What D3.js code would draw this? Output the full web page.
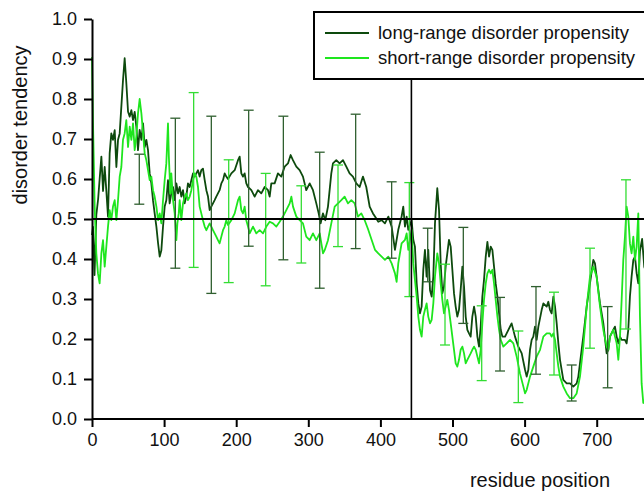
<!DOCTYPE html>
<html>
<head>
<meta charset="utf-8">
<script src="https://cdn.jsdelivr.net/npm/d3@7"></script>
<style>
  body { margin: 0; background: #fff; }
  svg { display: block; font-family: "Liberation Sans", Arial, sans-serif; }
  .axis path, .axis line { stroke: #000; stroke-width: 2; }
  .axis text { font-size: 18px; fill: #111; }
</style>
</head>
<body>
<div id="chart"></div>
<script>
// long-range disorder propensity [residue, tendency]
const longRange = [
  [0,0.46],[1.4,0.48],[3.5,0.36],[6,0.51],[8.5,0.55],[10.6,0.6],[13,0.656],[15.3,0.57],[17.6,0.63],[19.9,0.57],
  [22.2,0.506],[24.5,0.664],[26.8,0.714],[29.1,0.698],[31.5,0.722],[33.8,0.63],[36.1,0.698],[38.4,0.714],[40.7,0.781],[43,0.847],
  [45.3,0.902],[47.6,0.84],[50,0.768],[52.3,0.756],[54.6,0.772],[56.9,0.747],[59.2,0.768],[61.5,0.731],[63.8,0.672],[66.1,0.723],
  [68.5,0.698],[70.8,0.739],[73.1,0.68],[75.4,0.698],[77.7,0.672],[80,0.614],[82.3,0.589],[84.6,0.547],[86.9,0.514],[89.3,0.481],
  [91.6,0.44],[93.9,0.406],[96.2,0.422],[98.5,0.481],[100.8,0.531],[103.1,0.547],[105.4,0.597],[107.7,0.539],[110,0.564],[112.4,0.58],
  [114.7,0.547],[117,0.589],[119.3,0.564],[121.6,0.58],[123.9,0.556],[126.2,0.572],[128.5,0.539],[130.8,0.556],[133.1,0.589],[135.5,0.58],
  [137.8,0.597],[140.1,0.614],[142.4,0.606],[144.7,0.614],[147,0.622],[149.3,0.606],[151.6,0.622],[153.9,0.626],[156.3,0.597],[158.6,0.572],
  [160.9,0.556],[163.2,0.522],[165.5,0.531],[167.8,0.539],[170.1,0.547],[172.4,0.556],[174.7,0.564],[177,0.572],[179.4,0.589],[181.7,0.597],
  [184,0.614],[186.3,0.606],[188.6,0.6],[193.3,0.614],[197.9,0.622],[202.5,0.647],[204.8,0.656],[207.1,0.614],[209.4,0.606],[211.7,0.614],
  [214,0.589],[216.4,0.58],[221,0.572],[225.6,0.556],[230.2,0.572],[234.8,0.564],[239.5,0.58],[244.1,0.572],[246.4,0.556],[248.7,0.589],
  [253.3,0.589],[257.9,0.614],[262.6,0.606],[267.2,0.631],[271.8,0.639],[275.5,0.66],[278.7,0.647],[283.4,0.631],[288,0.622],[292.6,0.606],
  [297.2,0.572],[301.9,0.589],[306.5,0.572],[311.1,0.539],[314.4,0.514],[317.1,0.489],[320.3,0.514],[323.6,0.497],[327.3,0.531],[331.9,0.614],
  [334.2,0.639],[338.8,0.647],[343.4,0.639],[348.1,0.647],[352.7,0.631],[357.3,0.614],[361.9,0.606],[366.6,0.589],[371.2,0.58],[375.8,0.606],
  [380.4,0.58],[385.1,0.531],[389.7,0.514],[392.5,0.506],[397.1,0.493],[401.7,0.497],[406.3,0.489],[411,0.506],[415.6,0.481],[420.2,0.423],
  [424.8,0.473],[429.4,0.506],[431.7,0.531],[434.1,0.481],[436.4,0.506],[438.7,0.473],[443.3,0.497],[445.6,0.448],[447.9,0.431],[450.3,0.339],
  [452.6,0.289],[454.9,0.264],[457.2,0.281],[459.5,0.373],[461.8,0.423],[464.1,0.356],[466.4,0.423],[468.8,0.322],[471.1,0.306],[473.4,0.356],
  [475.7,0.489],[478.9,0.577],[481.3,0.523],[483.6,0.389],[485.9,0.314],[488.2,0.331],[490.5,0.381],[492.8,0.414],[495.1,0.448],[497.5,0.431],
  [499.8,0.373],[502.1,0.314],[504.4,0.281],[506.7,0.256],[509,0.273],[511.3,0.322],[513.7,0.381],[516,0.331],[518.3,0.256],[520.6,0.223],
  [522.9,0.214],[525.2,0.206],[527.5,0.256],[529.9,0.281],[532.2,0.256],[534.5,0.206],[536.8,0.181],[539.1,0.231],[541.4,0.306],[543.7,0.348],
  [546.1,0.406],[548.4,0.443],[550.7,0.406],[553,0.431],[555.3,0.423],[557.6,0.381],[559.9,0.339],[562.3,0.306],[564.6,0.264],[566.9,0.223],
  [569.2,0.206],[572.9,0.206],[577.5,0.223],[582,0.239],[586.7,0.206],[591.3,0.181],[596,0.164],[600.6,0.123],[602.9,0.106],[605.2,0.123],
  [607.5,0.173],[609.8,0.198],[612.1,0.206],[614.4,0.231],[616.7,0.198],[619.1,0.231],[623.7,0.273],[626,0.289],[630.6,0.281],[632.9,0.293],
  [635.2,0.273],[637.5,0.264],[639.9,0.306],[642.2,0.281],[644.5,0.239],[646.8,0.189],[649.1,0.148],[653.7,0.098],[658.4,0.089],[663,0.089],
  [667.6,0.081],[672.2,0.089],[674.5,0.106],[676.8,0.139],[681.4,0.206],[686.1,0.281],[690.7,0.339],[695.3,0.398],[697.6,0.389],[699.9,0.356],
  [704.6,0.289],[709.2,0.239],[713.8,0.164],[716.1,0.173],[718.4,0.206],[723,0.223],[725.3,0.231],[727.7,0.206],[730,0.189],[732.3,0.206],
  [734.6,0.198],[739.2,0.198],[741.5,0.189],[743.8,0.223],[746.1,0.306],[748.4,0.356],[750.8,0.398],[753.1,0.406],[755.4,0.364],[757.7,0.339],
  [760,0.42],[763,0.45],[766,0.38],[770,0.36]
];

// short-range disorder propensity [residue, tendency]
const shortRange = [
  [0,0.905],[1.4,0.74],[3.7,0.531],[6,0.414],[8.3,0.364],[10.6,0.339],[13,0.414],[15.3,0.447],[17.6,0.381],[19.9,0.431],
  [22.2,0.481],[24.5,0.522],[26.8,0.497],[29.1,0.531],[31.5,0.547],[33.8,0.497],[36.1,0.547],[38.4,0.606],[40.7,0.63],[43,0.698],
  [45.3,0.714],[47.6,0.747],[50,0.68],[52.3,0.731],[54.6,0.698],[56.9,0.739],[59.2,0.672],[61.5,0.706],[63.8,0.764],[66.1,0.8],
  [68.5,0.764],[70.8,0.714],[73.1,0.664],[75.4,0.647],[77.7,0.622],[80,0.597],[82.3,0.606],[84.6,0.572],[86.9,0.556],[89.3,0.531],
  [91.6,0.497],[93.9,0.514],[96.2,0.489],[98.5,0.547],[100.8,0.597],[103.1,0.639],[105.4,0.739],[106.6,0.656],[108.7,0.564],[110,0.614],
  [112.4,0.547],[114.7,0.514],[117,0.447],[118.4,0.489],[120.3,0.514],[121.6,0.547],[123.9,0.497],[126.2,0.539],[128.5,0.556],[130.8,0.564],
  [133.1,0.547],[135.5,0.556],[137.8,0.572],[140.1,0.597],[142.4,0.614],[144.7,0.606],[147,0.58],[149.3,0.531],[151.6,0.514],[153.9,0.497],
  [156.3,0.481],[158.6,0.472],[160.9,0.481],[163.2,0.489],[165.5,0.481],[167.8,0.472],[170.1,0.464],[172.4,0.456],[174.7,0.447],[177,0.439],
  [179.4,0.456],[181.7,0.472],[184,0.481],[186.3,0.497],[188.6,0.485],[193.3,0.497],[197.9,0.514],[202.5,0.547],[204.8,0.556],[207.1,0.522],
  [209.4,0.514],[211.7,0.531],[214,0.497],[216.4,0.481],[218.7,0.464],[223.3,0.481],[227.9,0.464],[232.5,0.472],[237.2,0.464],[241.8,0.481],
  [246.4,0.493],[251,0.489],[255.7,0.481],[260.3,0.493],[264.9,0.506],[269.5,0.522],[274.2,0.539],[276.5,0.556],[278.8,0.531],[283.4,0.506],
  [288,0.497],[292.6,0.489],[297.2,0.456],[301.9,0.447],[306.5,0.464],[311.1,0.447],[315.8,0.464],[318.1,0.439],[320.4,0.414],[322.7,0.422],
  [327.3,0.447],[331.9,0.489],[336.6,0.531],[341.2,0.539],[345.8,0.547],[350.4,0.556],[355,0.539],[359.7,0.547],[364.3,0.539],[368.9,0.506],
  [373.5,0.514],[378.2,0.497],[382.8,0.475],[387.8,0.448],[392.5,0.423],[397.1,0.414],[401.7,0.406],[406.3,0.398],[411,0.406],[415.6,0.389],
  [420.2,0.364],[422.5,0.343],[424.8,0.389],[429.4,0.439],[434.1,0.448],[436.4,0.464],[438.7,0.423],[443.3,0.473],[445.6,0.389],[447.9,0.348],
  [450.3,0.306],[452.6,0.256],[454.9,0.223],[457.2,0.206],[459.5,0.256],[461.8,0.273],[464.1,0.289],[466.4,0.256],[468.8,0.239],[471.1,0.248],
  [473.4,0.289],[475.7,0.356],[478.9,0.414],[481.3,0.389],[483.6,0.339],[485.9,0.298],[488.2,0.264],[490.5,0.281],[492.8,0.298],[495.1,0.273],
  [497.5,0.239],[499.8,0.206],[502.1,0.173],[504.4,0.139],[506.7,0.131],[509,0.148],[511.3,0.173],[513.7,0.181],[516,0.164],[518.3,0.139],
  [520.6,0.148],[522.9,0.156],[525.2,0.164],[527.5,0.173],[529.9,0.181],[532.2,0.173],[534.5,0.156],[536.8,0.139],[539.1,0.173],[541.4,0.239],
  [543.7,0.298],[546.1,0.339],[548.4,0.364],[550.7,0.373],[553,0.364],[555.3,0.373],[557.6,0.339],[559.9,0.298],[562.3,0.256],[564.6,0.223],
  [566.9,0.198],[570.5,0.181],[575.1,0.189],[579.8,0.198],[584.4,0.189],[589,0.156],[593.6,0.114],[598.3,0.081],[600.6,0.064],[602.9,0.073],
  [607.5,0.106],[612.1,0.131],[616.7,0.156],[621.4,0.173],[626,0.206],[630.6,0.214],[635.2,0.214],[637.5,0.206],[639.9,0.214],[642.2,0.198],
  [644.5,0.164],[646.8,0.131],[649.1,0.106],[653.7,0.081],[658.4,0.064],[663,0.052],[667.6,0.052],[672.2,0.064],[676.8,0.106],[681.4,0.181],
  [686.1,0.281],[690.7,0.356],[695.3,0.381],[699.9,0.356],[704.6,0.281],[709.2,0.223],[713.8,0.181],[716.1,0.173],[718.4,0.206],[723,0.223],
  [727.7,0.189],[730,0.148],[732.3,0.206],[734.6,0.298],[736.9,0.398],[739.2,0.456],[741.5,0.531],[743.8,0.506],[746.1,0.439],[748.4,0.414],
  [750.8,0.456],[753.1,0.398],[755.4,0.431],[757.7,0.514],[760,0.256],[762.3,0.089],[764.6,0.04],[770,0.06]
];

// error bars [residue, low, high]
const longErr = [
  [65.6,0.537,0.662],[115.6,0.377,0.752],[165.5,0.314,0.757],[217.3,0.432,0.772],[265.4,0.398,0.757],
  [315.8,0.327,0.667],[365.7,0.426,0.762],[415.6,0.402,0.593],[465.6,0.343,0.477],[515,0.239,0.479],
  [565.9,0.12,0.304],[615.8,0.112,0.331],[665.3,0.045,0.135],[715.2,0.078,0.281]
];
const shortErr = [
  [141,0.379,0.816],[189.6,0.341,0.648],[240.9,0.333,0.614],[290.3,0.39,0.583],[341.2,0.431,0.635],
  [440.1,0.306,0.591],[489.6,0.185,0.387],[540.5,0.096,0.283],[591.3,0.041,0.22],[640.8,0.11,0.317],
  [690.7,0.177,0.427],[740.6,0.225,0.598]
];

const xTicks = [0, 100, 200, 300, 400, 500, 600, 700];
const yTicks = [0, 0.1, 0.2, 0.3, 0.4, 0.5, 0.6, 0.7, 0.8, 0.9, 1.0];
const threshold = 0.5;
const boundary = 443;
const legendLabels = ["long-range disorder propensity", "short-range disorder propensity"];

const width = 644, height = 494;
const margin = {top: 19, left: 92, bottom: 75};
const darkGreen = "#0d4a0d", lightGreen = "#1ee61e";

const svg = d3.select("#chart").append("svg")
    .attr("width", width)
    .attr("height", height);

const x = d3.scaleLinear().domain([0, 770]).range([margin.left, margin.left + 770 * 0.721]);
const y = d3.scaleLinear().domain([0, 1]).range([height - margin.bottom, margin.top]);

const line = d3.line()
    .x(function (d) { return x(d[0]); })
    .y(function (d) { return y(d[1]); });

// data lines
svg.append("path").datum(longRange)
    .attr("fill", "none").attr("stroke", darkGreen).attr("stroke-width", 1.8)
    .attr("stroke-linejoin", "round").attr("d", line);

svg.append("path").datum(shortRange)
    .attr("fill", "none").attr("stroke", lightGreen).attr("stroke-width", 1.8)
    .attr("stroke-linejoin", "round").attr("d", line);

// error bars
function errorBars(data, color) {
    const g = svg.append("g").attr("stroke", color).attr("stroke-width", 1.3);
    const bars = g.selectAll("g").data(data).enter().append("g");
    bars.append("line")
        .attr("x1", function (d) { return x(d[0]); }).attr("x2", function (d) { return x(d[0]); })
        .attr("y1", function (d) { return y(d[1]); }).attr("y2", function (d) { return y(d[2]); });
    bars.append("line")
        .attr("x1", function (d) { return x(d[0]) - 5; }).attr("x2", function (d) { return x(d[0]) + 5; })
        .attr("y1", function (d) { return y(d[1]); }).attr("y2", function (d) { return y(d[1]); });
    bars.append("line")
        .attr("x1", function (d) { return x(d[0]) - 5; }).attr("x2", function (d) { return x(d[0]) + 5; })
        .attr("y1", function (d) { return y(d[2]); }).attr("y2", function (d) { return y(d[2]); });
}
errorBars(longErr, "#2f5f2f");
errorBars(shortErr, "#33dd33");

// threshold and boundary lines
svg.append("line")
    .attr("x1", x(0)).attr("x2", width)
    .attr("y1", y(threshold)).attr("y2", y(threshold))
    .attr("stroke", "#000").attr("stroke-width", 2);

const legendTop = 12, legendBottom = 79;

svg.append("line")
    .attr("x1", x(boundary)).attr("x2", x(boundary))
    .attr("y1", legendBottom).attr("y2", y(0))
    .attr("stroke", "#000").attr("stroke-width", 1.6);

// axes
svg.append("g")
    .attr("class", "axis")
    .attr("transform", "translate(0," + y(0) + ")")
    .call(d3.axisBottom(x).tickValues(xTicks).tickSize(8).tickSizeOuter(0).tickPadding(6))
    .call(function (g) { g.select(".domain").attr("d", "M" + x(0) + ",0H" + width); });

svg.append("g")
    .attr("class", "axis")
    .attr("transform", "translate(" + x(0) + ",0)")
    .call(d3.axisLeft(y).tickValues(yTicks).tickFormat(d3.format(".1f")).tickSize(8).tickSizeOuter(0).tickPadding(7));

svg.selectAll(".axis text").attr("font-family", null);

// axis labels
svg.append("text")
    .attr("transform", "translate(27,125) rotate(-90)")
    .attr("text-anchor", "middle")
    .attr("font-size", 20).attr("fill", "#111")
    .text("disorder tendency");

svg.append("text")
    .attr("x", 540).attr("y", 487)
    .attr("text-anchor", "middle")
    .attr("font-size", 20).attr("fill", "#111")
    .text("residue position");

// legend
const legend = svg.append("g");
legend.append("rect")
    .attr("x", 314).attr("y", legendTop)
    .attr("width", 345).attr("height", legendBottom - legendTop)
    .attr("fill", "#fff").attr("stroke", "#000").attr("stroke-width", 2);

[darkGreen, lightGreen].forEach(function (c, i) {
    const yy = 33 + i * 25;
    legend.append("line")
        .attr("x1", 325).attr("x2", 369).attr("y1", yy).attr("y2", yy)
        .attr("stroke", c).attr("stroke-width", 2);
    legend.append("text")
        .attr("x", 378).attr("y", yy + 6)
        .attr("font-size", 18.5).attr("fill", "#111")
        .text(legendLabels[i]);
});
</script>
</body>
</html>
